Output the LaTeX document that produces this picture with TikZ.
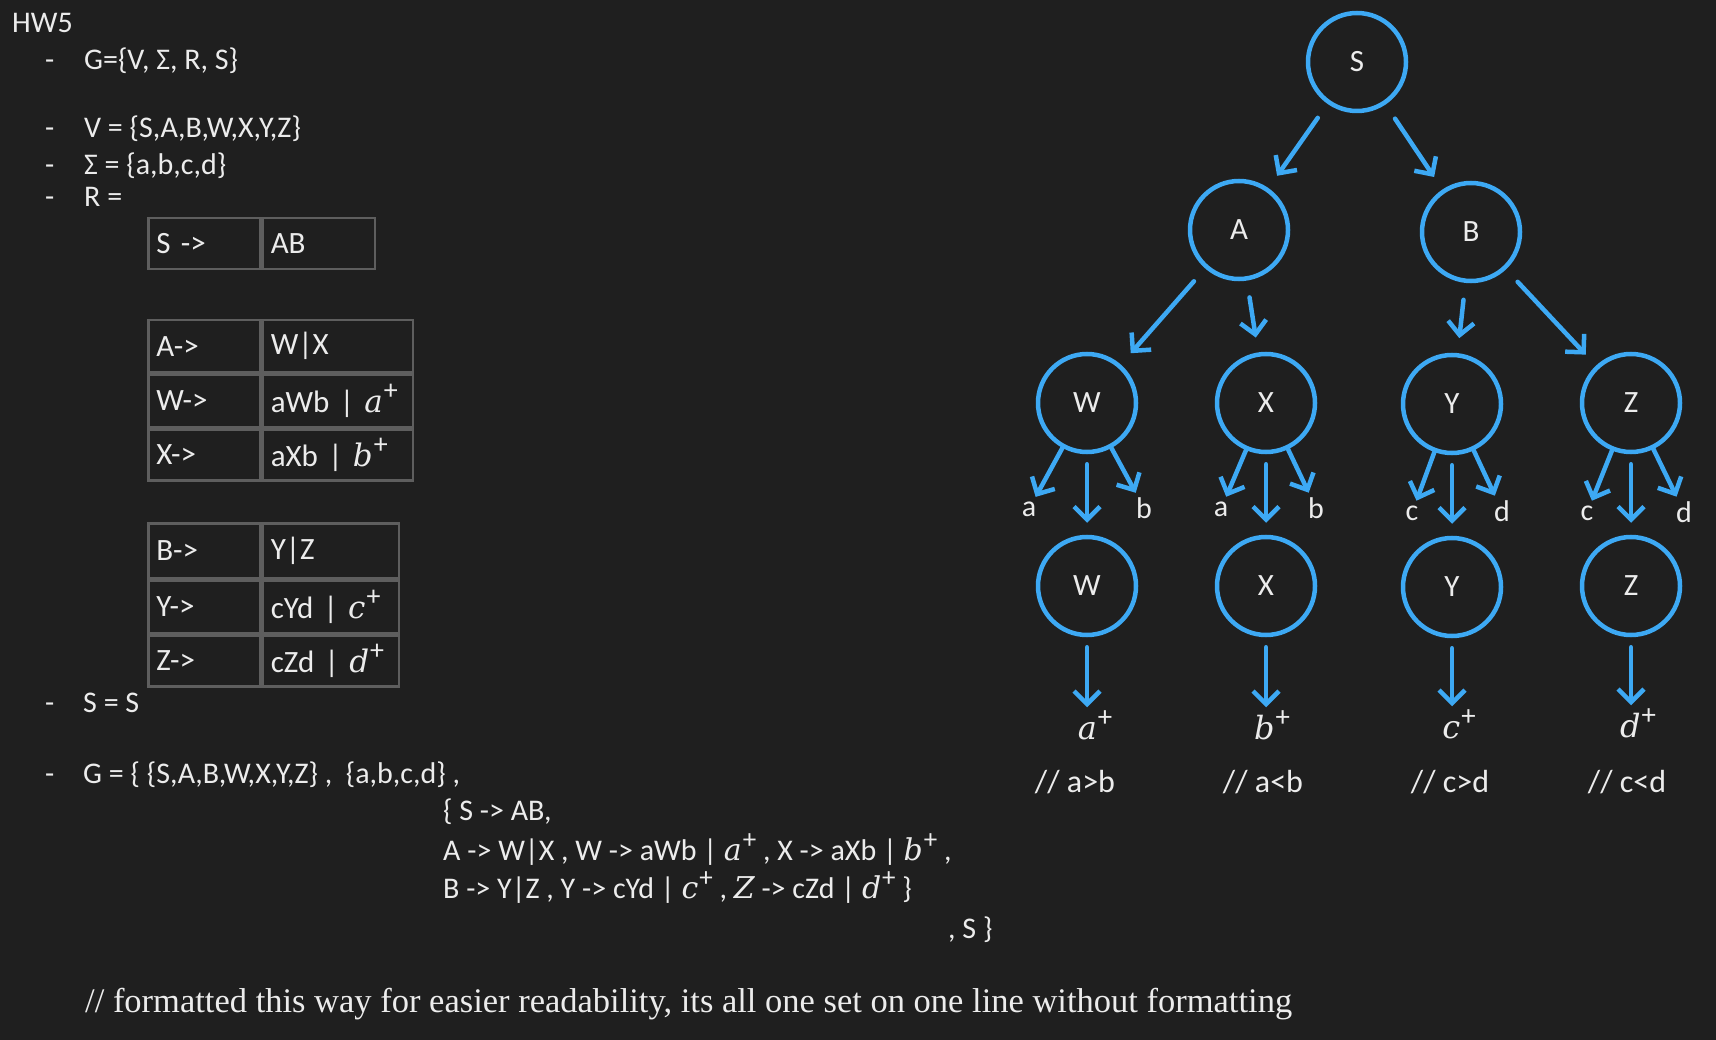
\documentclass[tikz,border=0pt]{standalone}
\usepackage{fontspec}
\setmainfont{Carlito}
\newfontfamily\notefont{Liberation Serif}
\newfontfamily\mathfnt{DejaVu Serif}
\usepackage{tikz}
\usetikzlibrary{arrows.meta, positioning}

\definecolor{bgdark}{HTML}{1F1F1F}
\definecolor{txtlight}{HTML}{ECECEC}
\definecolor{treeblue}{HTML}{3DA9F4}
\definecolor{tblgray}{HTML}{5E5E5E}

\newcommand{\setfs}[1]{\fontsize{#1}{#1}\selectfont}
\newcommand{\mvar}[1]{{\mathfnt\itshape #1}}
\newcommand{\plusof}[1]{\mvar{#1}\kern1pt\raisebox{0.4em}{\scalebox{0.9}{+}}}

\tikzset{
	var/.style = {draw=treeblue, line width=4.5pt, circle, minimum size=98pt, inner sep=0pt, on grid, text=txtlight, font=\setfs{31}},
	sym/.style = {text=txtlight, inner sep=1pt, on grid, font=\setfs{30}},
	deriv/.style = {draw=treeblue, line width=4.5pt, line cap=round, line join=round, -{Straight Barb[length=13pt, width=26pt]}},
	txt/.style = {text=txtlight, anchor=base west, inner sep=0pt, font=\setfs{30}},
	cell/.style = {draw=tblgray, line width=2.5pt, anchor=north west, inner xsep=8pt, inner ysep=0pt, align=left, text=txtlight, font=\setfs{31}}
}

\begin{document}
\begin{tikzpicture}[x=1pt, y=-1pt]
	\fill [bgdark] (0,0) rectangle (1716,1040);
	\useasboundingbox (0,0) rectangle (1716,1040);

	% definition list
	\node [txt] (hw) at (12,33) {HW5};
	\foreach \y in {70,138,175,207} \node [txt] (dash\y) at (45,\y) {-};
	\node [txt] (gdef) at (84,70) {G=\{V, Σ, R, S\}};
	\node [txt] (vset) at (84,138) {V = \{S,A,B,W,X,Y,Z\}};
	\node [txt] (sigma) at (84,175) {Σ = \{a,b,c,d\}};
	\node [txt] (rset) at (84,207) {R =};

	% rule tables
	\node [cell, text width=96pt, minimum height=51pt] (SL) at (147,217) {S ->};
	\node [cell, text width=96pt, minimum height=51pt, right=0pt of SL] (SR) {AB};

	\node [cell, text width=96pt, minimum height=52pt] (AL) at (147,319) {A->};
	\node [cell, text width=134pt, minimum height=52pt, right=0pt of AL] (AR) {W|X};
	\node [cell, text width=96pt, minimum height=52pt, below=0pt of AL] (WL) {W->};
	\node [cell, text width=134pt, minimum height=52pt, right=0pt of WL] (WR) {aWb | \plusof{a}};
	\node [cell, text width=96pt, minimum height=51pt, below=0pt of WL] (XL) {X->};
	\node [cell, text width=134pt, minimum height=51pt, right=0pt of XL] (XR) {aXb | \plusof{b}};

	\node [cell, text width=96pt, minimum height=55pt] (BL) at (147,522) {B->};
	\node [cell, text width=120pt, minimum height=55pt, right=0pt of BL] (BR) {Y|Z};
	\node [cell, text width=96pt, minimum height=52pt, below=0pt of BL] (YL) {Y->};
	\node [cell, text width=120pt, minimum height=52pt, right=0pt of YL] (YR) {cYd | \plusof{c}};
	\node [cell, text width=96pt, minimum height=51pt, below=0pt of YL] (ZL) {Z->};
	\node [cell, text width=120pt, minimum height=51pt, right=0pt of ZL] (ZR) {cZd | \plusof{d}};

	% full grammar
	\foreach \y in {712,783} \node [txt] (dash\y) at (45,\y) {-};
	\node [txt] (start) at (83,712) {S = S};
	\node [txt] (gfull) at (83,783) {G = \{ \{S,A,B,W,X,Y,Z\} , \ \{a,b,c,d\} ,};
	\node [txt] (rfirst) at (443,820) {\{ S -> AB,};
	\node [txt] (rline1) at (443,860) {A -> W|X , W -> aWb | \plusof{a} , X -> aXb | \plusof{b} ,};
	\node [txt] (rline2) at (443,898) {B -> Y|Z , Y -> cYd | \plusof{c} , \mvar{Z} -> cZd | \plusof{d} \}};
	\node [txt] (sclose) at (948,938) {, S \}};
	\node [txt, font=\notefont\setfs{34.5}] (note) at (85,1012) {// formatted this way for easier readability, its all one set on one line without formatting};

	% parse tree
	\node [var] (S) at (1357,62) {S};
	\node [var, below left = 168pt and 118pt of S] (A) {A};
	\node [var, below right = 170pt and 114pt of S] (B) {B};
	\node [var, below left = 173pt and 152pt of A] (W1) {W};
	\node [var, below right = 173pt and 27pt of A] (X1) {X};
	\node [var, below left = 172pt and 19pt of B] (Y1) {Y};
	\node [var, below right = 171pt and 160pt of B] (Z1) {Z};
	\node [var, below = 183pt of W1] (W2) {W};
	\node [var, below = 183pt of X1] (X2) {X};
	\node [var, below = 183pt of Y1] (Y2) {Y};
	\node [var, below = 183pt of Z1] (Z2) {Z};

	\node [sym, below left = 106pt and 58pt of W1] (Wa) {a};
	\node [sym, below right = 105pt and 57pt of W1] (Wb) {b};
	\node [sym, below left = 106pt and 45pt of X1] (Xa) {a};
	\node [sym, below right = 105pt and 50pt of X1] (Xb) {b};
	\node [sym, below left = 109pt and 40pt of Y1] (Yc) {c};
	\node [sym, below right = 107pt and 50pt of Y1] (Yd) {d};
	\node [sym, below left = 110pt and 44pt of Z1] (Zc) {c};
	\node [sym, below right = 109pt and 53pt of Z1] (Zd) {d};

	\node [sym, below = 139pt of W2, xshift=8pt, font=\setfs{32}] (Wt) {\plusof{a}};
	\node [sym, below = 139pt of X2, xshift=6pt, font=\setfs{32}] (Xt) {\plusof{b}};
	\node [sym, below = 137pt of Y2, xshift=7pt, font=\setfs{32}] (Yt) {\plusof{c}};
	\node [sym, below = 137pt of Z2, xshift=7pt, font=\setfs{32}] (Zt) {\plusof{d}};
	\node [sym, below = 196pt of W2, xshift=-12pt, font=\setfs{32}] (Wc) {// a>b};
	\node [sym, below = 196pt of X2, xshift=-3pt, font=\setfs{32}] (Xc) {// a<b};
	\node [sym, below = 195pt of Y2, xshift=-2pt, font=\setfs{32}] (Yc2) {// c>d};
	\node [sym, below = 196pt of Z2, xshift=-4pt, font=\setfs{32}] (Zc2) {// c<d};

	\draw [deriv, shorten <=17pt, shorten >=15pt] (S) -- (A);
	\draw [deriv, shorten <=17pt, shorten >=15pt] (S) -- (B);
	\draw [deriv, shorten <=17pt, shorten >=15pt] (A) -- (W1);
	\draw [deriv, shorten <=17pt, shorten >=15pt] (A) -- (X1);
	\draw [deriv, shorten <=17pt, shorten >=15pt] (B) -- (Y1);
	\draw [deriv, shorten <=17pt, shorten >=15pt] (B) -- (Z1);

	\draw [deriv, shorten >=4pt] (W1) -- (Wa);
	\draw [deriv, shorten >=4pt] (W1) -- (Wb);
	\draw [deriv, shorten >=4pt] (X1) -- (Xa);
	\draw [deriv, shorten >=4pt] (X1) -- (Xb);
	\draw [deriv, shorten >=4pt] (Y1) -- (Yc);
	\draw [deriv, shorten >=4pt] (Y1) -- (Yd);
	\draw [deriv, shorten >=4pt] (Z1) -- (Zc);
	\draw [deriv, shorten >=4pt] (Z1) -- (Zd);

	\draw [deriv, shorten <=10pt, shorten >=12pt] (W1) -- (W2);
	\draw [deriv, shorten <=10pt, shorten >=12pt] (X1) -- (X2);
	\draw [deriv, shorten <=10pt, shorten >=12pt] (Y1) -- (Y2);
	\draw [deriv, shorten <=10pt, shorten >=12pt] (Z1) -- (Z2);

	\draw [deriv, shorten <=10pt, shorten >=2pt] (W2) -- (W2 |- Wt.north);
	\draw [deriv, shorten <=10pt, shorten >=2pt] (X2) -- (X2 |- Xt.north);
	\draw [deriv, shorten <=10pt, shorten >=2pt] (Y2) -- (Y2 |- Yt.north);
	\draw [deriv, shorten <=10pt, shorten >=2pt] (Z2) -- (Z2 |- Zt.north);
\end{tikzpicture}
\end{document}
